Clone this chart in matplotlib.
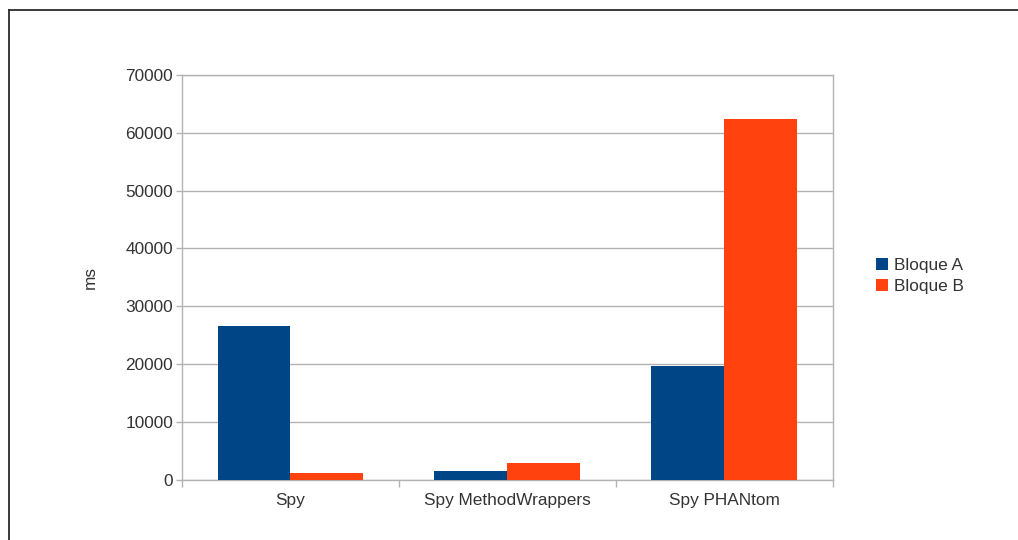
import matplotlib.pyplot as plt
from matplotlib.lines import Line2D
from matplotlib.ticker import FixedLocator
import numpy as np

categories = ['Spy', 'Spy MethodWrappers', 'Spy PHANtom']
bloque_a = [26500, 1500, 19700]
bloque_b = [1200, 2800, 62300]
series_names = ['Bloque A', 'Bloque B']
y_ticks = [0, 10000, 20000, 30000, 40000, 50000, 60000, 70000]

blue = '#004586'
orange = '#ff420e'
grid_gray = '#b3b3b3'
text_col = '#333333'
fs = 12.4

plt.rcParams['font.family'] = ['Liberation Sans', 'DejaVu Sans']

fig = plt.figure(figsize=(10.18, 5.4), dpi=100)
ax = fig.add_axes([182 / 1018, 1 - 479.5 / 540, 650.5 / 1018, 404.5 / 540])

x = np.arange(len(categories))
w = 0.336
ax.bar(x - w / 2, bloque_a, width=w, color=blue, label=series_names[0], zorder=3)
ax.bar(x + w / 2, bloque_b, width=w, color=orange, label=series_names[1], zorder=3)

ax.set_xlim(-0.5, len(categories) - 0.5)
ax.set_ylim(0, 70000)
ax.set_yticks(y_ticks)
ax.set_yticklabels([str(t) for t in y_ticks])
ax.yaxis.grid(True, color=grid_gray, linewidth=1, zorder=0)

ax.set_xticks(x)
ax.set_xticklabels(categories)
ax.xaxis.set_minor_locator(FixedLocator(np.arange(-0.5, len(categories), 1.0)))
ax.tick_params(axis='x', which='major', length=0, pad=9.5, labelsize=fs, labelcolor=text_col)
ax.tick_params(axis='x', which='minor', length=5, width=1, color=grid_gray, direction='out')
ax.tick_params(axis='y', length=4.5, width=1, color=grid_gray, pad=2, labelsize=fs, labelcolor=text_col)

for s in ax.spines.values():
    s.set_color(grid_gray)
    s.set_linewidth(1)

ax.set_ylabel('ms', fontsize=fs, color=text_col)
ax.yaxis.set_label_coords(-84 / 650.5, 0.5)

fig.legend(loc='center left', bbox_to_anchor=(860 / 1018, 1 - 276 / 540), frameon=False,
           handlelength=0.7, handleheight=0.7, handletextpad=0.35, labelspacing=0.35,
           fontsize=fs, labelcolor=text_col)

# thin outer frame on the left and top (cropped screenshot border)
fig.add_artist(Line2D([8.5 / 1018, 8.5 / 1018], [0, 1 - 9.5 / 540], color='#2b2b2b', linewidth=1.3,
                      transform=fig.transFigure))
fig.add_artist(Line2D([8.5 / 1018, 1], [1 - 9.5 / 540, 1 - 9.5 / 540], color='#2b2b2b', linewidth=1.3,
                      transform=fig.transFigure))

fig.savefig('out.png', dpi=100)
